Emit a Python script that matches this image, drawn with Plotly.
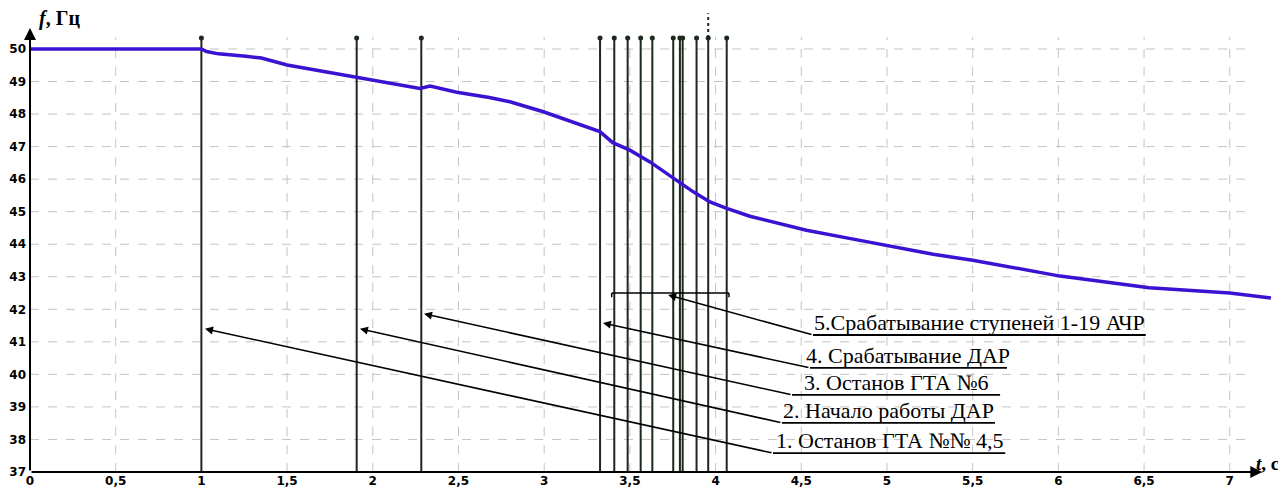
import plotly.graph_objects as go

# ---- data ----
t_curve = [0.0, 1.0, 1.03, 1.1, 1.26, 1.35, 1.5, 1.7, 1.906, 2.1, 2.275, 2.334, 2.4, 2.49,
           2.68, 2.80, 2.995, 3.17, 3.325, 3.40, 3.50, 3.617, 3.753, 3.87, 3.967, 4.065,
           4.20, 4.395, 4.53, 4.78, 5.0, 5.27, 5.50, 5.66, 6.01, 6.53, 7.0, 7.24]
f_curve = [50.0, 50.0, 49.92, 49.85, 49.78, 49.72, 49.51, 49.33, 49.13, 48.95, 48.79, 48.86, 48.78, 48.67,
           48.51, 48.38, 48.07, 47.76, 47.46, 47.12, 46.89, 46.53, 46.02, 45.61, 45.30, 45.10,
           44.86, 44.62, 44.43, 44.18, 43.95, 43.69, 43.51, 43.35, 43.02, 42.66, 42.50, 42.35]

event_times = [1.0, 1.906, 2.283, 3.326, 3.409, 3.487, 3.563, 3.631, 3.753, 3.792, 3.808,
               3.889, 3.957, 4.065]
dashed_event = 3.957

x_ticks = [0, 0.5, 1, 1.5, 2, 2.5, 3, 3.5, 4, 4.5, 5, 5.5, 6, 6.5, 7]
x_tick_labels = ["0", "0,5", "1", "1,5", "2", "2,5", "3", "3,5", "4", "4,5", "5", "5,5", "6", "6,5", "7"]
y_ticks = [37, 38, 39, 40, 41, 42, 43, 44, 45, 46, 47, 48, 49, 50]

labels = ["1. Останов ГТА №№ 4,5", "2. Начало работы ДАР", "3. Останов ГТА №6",
          "4. Срабатывание ДАР", "5.Срабатывание ступеней 1-19 АЧР"]
# arrow heads (t, f), leader tails / underline start (t, f), underline end t
head_t = [1.021, 1.925, 2.299, 3.343, 3.723]
head_f = [41.40, 41.40, 41.86, 41.58, 42.44]
tail_t = [4.335, 4.387, 4.446, 4.551, 4.568]
tail_f = [37.58, 38.51, 39.37, 40.20, 41.21]
uline_end_t = [5.69, 5.63, 5.66, 5.70, 6.51]
brace_t = [3.394, 4.078]
brace_f = 42.50

T0, T1 = 0, 7.264
F0, F1 = 37, 51.198
top_f = 50.34

fig = go.Figure()

# grid lines
grid = dict(color="#c4c4c4", width=1, dash="dash")
for xt in x_ticks[1:]:
    fig.add_shape(type="line", x0=xt, x1=xt, y0=F0, y1=50.37, line=grid, layer="below")
for yt in y_ticks[1:]:
    fig.add_shape(type="line", x0=0, x1=7.09, y0=yt, y1=yt, line=grid, layer="below")

# event vertical lines
for et in event_times:
    fig.add_trace(go.Scatter(x=[et, et], y=[F0, top_f], mode="lines",
                             line=dict(color="#1c2a1e", width=2), hoverinfo="skip",
                             showlegend=False))
fig.add_trace(go.Scatter(x=event_times, y=[top_f] * len(event_times), mode="markers",
                         marker=dict(symbol="circle", size=5, color="#1c2a1e"),
                         hoverinfo="skip", showlegend=False))
fig.add_trace(go.Scatter(x=[dashed_event, dashed_event], y=[top_f, 51.1], mode="lines",
                         line=dict(color="#1c2a1e", width=2, dash="dot"),
                         hoverinfo="skip", showlegend=False))

# frequency curve
fig.add_trace(go.Scatter(x=t_curve, y=f_curve, mode="lines",
                         line=dict(color="#3b12d2", width=3.5), showlegend=False))

# brace for АЧР
fig.add_shape(type="line", x0=brace_t[0], x1=brace_t[1], y0=brace_f, y1=brace_f,
              line=dict(color="black", width=1.5))
for bt in brace_t:
    fig.add_shape(type="line", x0=bt, x1=bt, y0=brace_f, y1=brace_f - 0.13,
                  line=dict(color="black", width=1.5))

# leaders, underlines and labels
for i, lab in enumerate(labels):
    fig.add_annotation(x=head_t[i], y=head_f[i], ax=tail_t[i], ay=tail_f[i],
                       xref="x", yref="y", axref="x", ayref="y", text="",
                       showarrow=True, arrowhead=2, arrowsize=1, arrowwidth=1.6,
                       arrowcolor="black")
    fig.add_shape(type="line", x0=tail_t[i], x1=uline_end_t[i], y0=tail_f[i], y1=tail_f[i],
                  line=dict(color="black", width=1.8))
    fig.add_annotation(x=(tail_t[i] + uline_end_t[i]) / 2, y=tail_f[i], xref="x", yref="y",
                       text=lab, showarrow=False, yanchor="bottom", yshift=-2,
                       font=dict(family="Liberation Serif", size=22, color="black"))

# axes arrows
fig.add_annotation(x=7.19, y=F0, ax=0, ay=F0, xref="x", yref="y", axref="x", ayref="y",
                   text="", showarrow=True, arrowhead=2, arrowsize=1.2, arrowwidth=2,
                   arrowcolor="black")
fig.add_annotation(x=0, y=50.645, ax=0, ay=F0, xref="x", yref="y", axref="x", ayref="y",
                   text="", showarrow=True, arrowhead=2, arrowsize=1.2, arrowwidth=2,
                   arrowcolor="black")
fig.add_annotation(x=0.04, y=50.95, xref="x", yref="y", text="<b><i>f</i>, Гц</b>",
                   showarrow=False, xanchor="left", yanchor="middle",
                   font=dict(family="Liberation Serif", size=20, color="black"))
fig.add_annotation(x=1.0, y=F0 + 0.25, xref="paper", yref="y", text="<b><i>t</i>, с</b>",
                   showarrow=False, xanchor="right", yanchor="middle", xshift=6,
                   font=dict(family="Liberation Serif", size=19, color="black"))

fig.update_xaxes(range=[T0, T1], tickvals=x_ticks, ticktext=x_tick_labels,
                 showgrid=False, zeroline=False, showline=False, ticks="", automargin=False,
                 tickfont=dict(family="DejaVu Sans", size=12, color="black", weight="bold"))
fig.update_yaxes(range=[F0, F1], tickvals=y_ticks, showgrid=False, zeroline=False,
                 showline=False, ticks="", automargin=False, ticklabelstandoff=3,
                 tickfont=dict(family="DejaVu Sans", size=12, color="black", weight="bold"))
# page body has an 8px margin: figure is sized to fit the remaining viewport
fig.update_layout(width=1278, height=483, margin=dict(l=22, r=11, t=2, b=19),
                  plot_bgcolor="white", paper_bgcolor="white")

fig.write_html("out.html")
